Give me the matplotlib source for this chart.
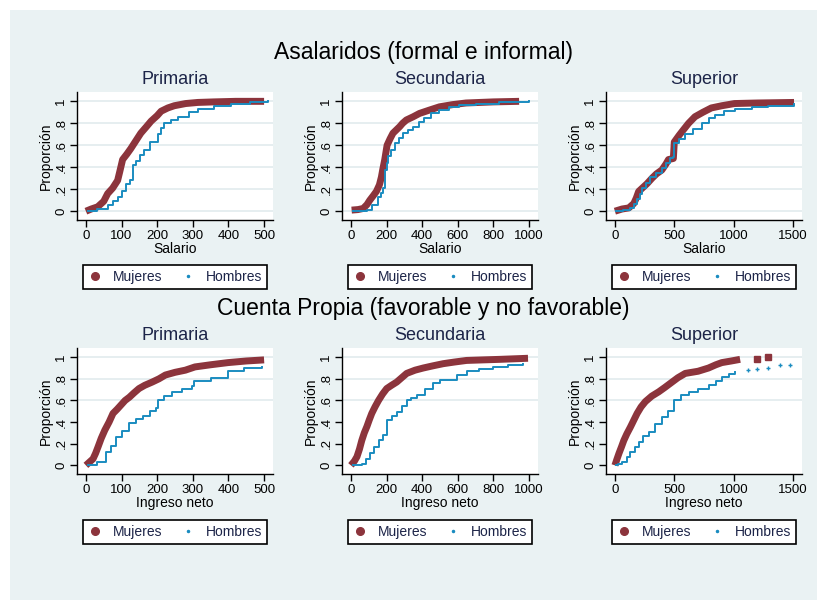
import matplotlib.pyplot as plt
from matplotlib.lines import Line2D
from matplotlib.patches import Rectangle

plt.rcParams['font.family'] = ['Liberation Sans', 'DejaVu Sans']

niveles = ["Primaria", "Secundaria", "Superior"]
titulo_asal = "Asalaridos (formal e informal)"
titulo_cp = "Cuenta Propia (favorable y no favorable)"
xlabel_asal = "Salario"
xlabel_cp = "Ingreso neto"
ylabel = "Proporción"
grupos = ["Mujeres", "Hombres"]
xticks_nivel = [[0, 100, 200, 300, 400, 500],
                [0, 200, 400, 600, 800, 1000],
                [0, 500, 1000, 1500]]
xlims_nivel = [(-25, 525), (-50, 1050), (-75, 1575)]
yticks = [0, .2, .4, .6, .8, 1]
ytick_labels = ["0", ".2", ".4", ".6", ".8", "1"]

# asalariados: salario vs proporcion acumulada
asal_prim_muj_x = [0, 15, 33, 50, 61, 75, 89, 95, 103, 115, 126, 140, 154, 170, 183, 200, 211, 230, 248, 280, 314, 360, 420, 500]
asal_prim_muj_p = [0.0, 0.02, 0.04, 0.09, 0.16, 0.21, 0.28, 0.36, 0.47, 0.52, 0.57, 0.64, 0.71, 0.77, 0.82, 0.87, 0.91, 0.94, 0.96, 0.98, 0.99, 0.995, 1.0, 1.0]
asal_prim_hom_x = [5, 30, 61, 75, 89, 100, 112, 125, 131, 140, 152, 164, 180, 201, 210, 220, 240, 258, 290, 314, 360, 407, 460, 510]
asal_prim_hom_p = [0.0, 0.02, 0.055, 0.09, 0.13, 0.18, 0.25, 0.28, 0.42, 0.46, 0.51, 0.56, 0.63, 0.70, 0.76, 0.80, 0.83, 0.86, 0.90, 0.93, 0.96, 0.98, 0.99, 1.0]

asal_sec_muj_x = [4, 40, 69, 90, 106, 125, 143, 160, 171, 180, 190, 197, 203, 220, 236, 255, 274, 290, 311, 350, 385, 440, 497, 570, 646, 800, 944]
asal_sec_muj_p = [0.01, 0.015, 0.025, 0.06, 0.10, 0.14, 0.18, 0.24, 0.31, 0.39, 0.47, 0.54, 0.60, 0.66, 0.71, 0.74, 0.77, 0.80, 0.83, 0.86, 0.89, 0.92, 0.95, 0.97, 0.985, 0.995, 1.0]
asal_sec_hom_x = [9, 50, 88, 120, 153, 170, 181, 190, 200, 208, 225, 246, 270, 292, 320, 348, 380, 413, 450, 497, 550, 609, 700, 832, 1000]
asal_sec_hom_p = [0.0, 0.005, 0.01, 0.06, 0.13, 0.17, 0.21, 0.375, 0.44, 0.50, 0.56, 0.62, 0.67, 0.71, 0.74, 0.77, 0.81, 0.85, 0.89, 0.92, 0.95, 0.97, 0.98, 0.99, 1.0]

asal_sup_muj_x = [0, 60, 117, 159, 180, 200, 240, 270, 312, 350, 395, 430, 451, 492, 500, 540, 576, 620, 674, 740, 812, 900, 1007, 1200, 1508]
asal_sup_muj_p = [0.0, 0.02, 0.03, 0.07, 0.12, 0.18, 0.22, 0.25, 0.30, 0.34, 0.375, 0.43, 0.47, 0.48, 0.63, 0.69, 0.74, 0.80, 0.86, 0.90, 0.94, 0.96, 0.98, 0.985, 0.99]
asal_sup_hom_x = [6, 70, 131, 160, 186, 210, 228, 260, 298, 350, 395, 430, 465, 492, 500, 540, 590, 660, 729, 790, 841, 920, 1007, 1150, 1285, 1508]
asal_sup_hom_p = [0.0, 0.01, 0.03, 0.07, 0.115, 0.16, 0.21, 0.26, 0.31, 0.35, 0.39, 0.44, 0.48, 0.49, 0.62, 0.66, 0.70, 0.75, 0.80, 0.85, 0.88, 0.91, 0.93, 0.95, 0.96, 0.98]

# cuenta propia: ingreso neto vs proporcion acumulada
cp_prim_muj_x = [0, 10, 20, 27, 34, 43, 53, 65, 76, 88, 99, 110, 122, 135, 149, 165, 186, 205, 223, 250, 279, 306, 350, 399, 450, 500]
cp_prim_muj_p = [0.0, 0.03, 0.06, 0.11, 0.17, 0.25, 0.325, 0.40, 0.48, 0.52, 0.56, 0.60, 0.63, 0.67, 0.71, 0.74, 0.77, 0.80, 0.835, 0.86, 0.88, 0.91, 0.93, 0.95, 0.965, 0.975]
cp_prim_hom_x = [5, 30, 57, 70, 85, 100, 122, 140, 159, 180, 198, 202, 220, 242, 270, 297, 302, 352, 399, 445, 495]
cp_prim_hom_p = [0.0, 0.03, 0.12, 0.18, 0.26, 0.32, 0.39, 0.43, 0.46, 0.50, 0.53, 0.60, 0.64, 0.68, 0.71, 0.73, 0.78, 0.81, 0.87, 0.90, 0.91]

cp_sec_muj_x = [0, 20, 34, 48, 61, 75, 90, 103, 117, 135, 155, 178, 201, 228, 257, 285, 313, 360, 406, 460, 518, 580, 649, 740, 835, 994]
cp_sec_muj_p = [0.0, 0.04, 0.08, 0.15, 0.23, 0.30, 0.36, 0.42, 0.48, 0.54, 0.60, 0.66, 0.71, 0.74, 0.77, 0.81, 0.85, 0.88, 0.90, 0.92, 0.94, 0.955, 0.97, 0.975, 0.98, 0.99]
cp_sec_hom_x = [13, 61, 85, 108, 130, 155, 180, 201, 205, 230, 257, 285, 313, 340, 369, 416, 460, 500, 593, 649, 720, 798, 880, 966]
cp_sec_hom_p = [0.0, 0.015, 0.06, 0.11, 0.17, 0.23, 0.28, 0.325, 0.42, 0.46, 0.49, 0.55, 0.60, 0.62, 0.65, 0.71, 0.76, 0.79, 0.835, 0.87, 0.89, 0.91, 0.925, 0.94]

cp_sup_muj_x = [0, 15, 34, 55, 75, 100, 131, 160, 187, 220, 257, 310, 369, 420, 481, 530, 592, 700, 788, 850, 900, 980, 1054]
cp_sup_muj_p = [0.0, 0.05, 0.11, 0.17, 0.23, 0.29, 0.355, 0.42, 0.48, 0.54, 0.59, 0.64, 0.68, 0.72, 0.77, 0.81, 0.85, 0.87, 0.90, 0.93, 0.95, 0.965, 0.98]
cp_sup_muj_cola_x = [1193, 1291]
cp_sup_muj_cola_p = [0.985, 1.0]
cp_sup_hom_x = [6, 30, 61, 100, 131, 165, 201, 240, 285, 340, 397, 450, 495, 500, 560, 620, 700, 788, 850, 900, 960, 1012]
cp_sup_hom_p = [0.0, 0.01, 0.03, 0.08, 0.12, 0.17, 0.22, 0.27, 0.31, 0.38, 0.45, 0.50, 0.56, 0.60, 0.65, 0.68, 0.71, 0.74, 0.78, 0.82, 0.84, 0.865]
cp_sup_hom_cola_x = [1124, 1193, 1291, 1389, 1472]
cp_sup_hom_cola_p = [0.885, 0.895, 0.90, 0.925, 0.93]

granate = '#8c343c'
azul = '#1a8cc0'
fondo = '#eaf2f3'
texto = '#1c2448'

fig = plt.figure(figsize=(8.17, 6.0), dpi=100)
fig.patch.set_facecolor('white')
fig.add_artist(Rectangle((10 / 817, 0), 1, 1 - 10 / 600, transform=fig.transFigure,
                         facecolor=fondo, edgecolor='none', zorder=-10))

filas = [
    dict(titulo=titulo_asal, ty=52, top=92, bottom=220, xlabel=xlabel_asal, grid=yticks,
         muj=[(asal_prim_muj_x, asal_prim_muj_p), (asal_sec_muj_x, asal_sec_muj_p), (asal_sup_muj_x, asal_sup_muj_p)],
         hom=[(asal_prim_hom_x, asal_prim_hom_p), (asal_sec_hom_x, asal_sec_hom_p), (asal_sup_hom_x, asal_sup_hom_p)],
         muj_cola=[None, None, None], hom_cola=[None, None, None], leg_bottom=290),
    dict(titulo=titulo_cp, ty=309, top=348, bottom=474, xlabel=xlabel_cp, grid=[.6, .8, 1],
         muj=[(cp_prim_muj_x, cp_prim_muj_p), (cp_sec_muj_x, cp_sec_muj_p), (cp_sup_muj_x, cp_sup_muj_p)],
         hom=[(cp_prim_hom_x, cp_prim_hom_p), (cp_sec_hom_x, cp_sec_hom_p), (cp_sup_hom_x, cp_sup_hom_p)],
         muj_cola=[None, None, (cp_sup_muj_cola_x, cp_sup_muj_cola_p)],
         hom_cola=[None, None, (cp_sup_hom_cola_x, cp_sup_hom_cola_p)], leg_bottom=545),
]
col_left = [77, 342, 606]
col_width = 196

handles = [Line2D([], [], color=granate, marker='o', ls='none', ms=5.5),
           Line2D([], [], color=azul, marker='.', ls='none', ms=3)]

for fila in filas:
    fig.text(423 / 817, 1 - fila['ty'] / 600, fila['titulo'], ha='center', va='center',
             fontsize=16.5, color='black')
    h = fila['bottom'] - fila['top']
    for j in range(3):
        ax = fig.add_axes([col_left[j] / 817, 1 - fila['bottom'] / 600, col_width / 817, h / 600])
        ax.set_facecolor('white')
        for g in fila['grid']:
            ax.axhline(g, color='#e4edef', lw=1.3, zorder=0)
        mx, mp = fila['muj'][j]
        hx, hp = fila['hom'][j]
        ax.plot(mx, mp, color=granate, lw=5, solid_capstyle='butt', zorder=2)
        ax.plot(hx, hp, color=azul, lw=1.4, drawstyle='steps-post', zorder=3)
        if fila['muj_cola'][j] is not None:
            ax.plot(fila['muj_cola'][j][0], fila['muj_cola'][j][1], 's', color=granate, ms=4.5, zorder=2)
        if fila['hom_cola'][j] is not None:
            ax.plot(fila['hom_cola'][j][0], fila['hom_cola'][j][1], '+', color=azul, ms=3, mew=1, zorder=3)

        ax.set_xlim(*xlims_nivel[j])
        ax.set_ylim(-0.08, 1.085)
        ax.set_xticks(xticks_nivel[j])
        ax.set_yticks(yticks)
        ax.set_yticklabels(ytick_labels, rotation=90, va='center')
        ax.tick_params(direction='out', length=5, width=1, labelsize=9.5, colors='black', pad=2)
        for s in ['top', 'right']:
            ax.spines[s].set_visible(False)
        for s in ['left', 'bottom']:
            ax.spines[s].set_color('black')
            ax.spines[s].set_linewidth(1)
        ax.set_title(niveles[j], fontsize=13, color=texto, pad=6)
        ax.set_xlabel(fila['xlabel'], fontsize=10, color='black', labelpad=0)
        ax.set_ylabel(ylabel, fontsize=10, color='black', labelpad=2)

        leg_h = 26 / h
        leg_y0 = (fila['bottom'] - fila['leg_bottom']) / h
        leg = ax.legend(handles, grupos, loc='center', bbox_to_anchor=(6 / col_width, leg_y0, 184 / col_width, leg_h),
                        mode='expand', ncol=2, frameon=True, fancybox=False, edgecolor='black',
                        framealpha=1, borderaxespad=0, fontsize=10, handlelength=1.0,
                        handletextpad=0.8, borderpad=0.35)
        leg.get_frame().set_linewidth(1.2)
        for t in leg.get_texts():
            t.set_color(texto)

fig.savefig('out.png', dpi=100)
